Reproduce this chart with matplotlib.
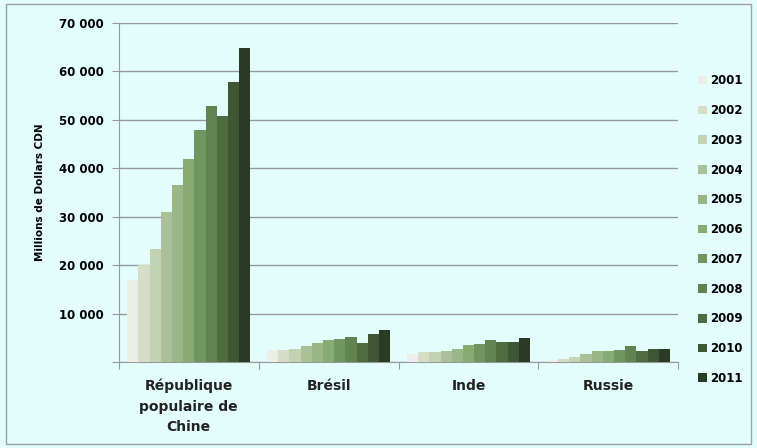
import numpy as np
import matplotlib.pyplot as plt
from matplotlib.patches import Rectangle, Patch
from matplotlib.ticker import FuncFormatter

# valeurs (millions de dollars CDN)
years = ['2001', '2002', '2003', '2004', '2005', '2006', '2007', '2008', '2009', '2010', '2011']
countries = ['République\npopulaire de\nChine', 'Brésil', 'Inde', 'Russie']
chine = [16900, 20000, 23300, 31000, 36500, 41800, 47900, 52900, 50700, 57800, 64800]
bresil = [2500, 2500, 2750, 3250, 4000, 4500, 4800, 5100, 4000, 5850, 6500]
inde = [1700, 2000, 2000, 2250, 2750, 3500, 3750, 4500, 4050, 4050, 5000]
russie = [450, 700, 1050, 1700, 2250, 2250, 2550, 3250, 2250, 2750, 2750]
colors = ['#EEEEE8', '#D6DDC6', '#C4D2B4', '#AAC099', '#98B686', '#86AB73',
          '#6F9561', '#5F8351', '#4E6C41', '#3D5634', '#2B3A24']

bg = '#E3FDFD'
values = np.array([chine, bresil, inde, russie])

fig = plt.figure(figsize=(7.57, 4.48), dpi=100, facecolor=bg)
ax = fig.add_axes([0.157, 0.192, 0.739, 0.757])
ax.set_facecolor(bg)

n = len(years)
group_w = 0.88
w = group_w / n
x = np.arange(len(countries))
for i in range(n):
    ax.bar(x - group_w / 2 + w * (i + 0.5), values[:, i], width=w, color=colors[i],
           label=years[i], zorder=3)

ax.set_xlim(-0.5, len(countries) - 0.5)
ax.set_ylim(0, 70000)
ax.set_yticks(np.arange(0, 70001, 10000))
ax.yaxis.set_major_formatter(FuncFormatter(lambda v, p: '' if v == 0 else f'{int(v):,}'.replace(',', ' ')))
ax.grid(axis='y', color='#999999', linewidth=1, zorder=0)

ax.set_xticks(np.arange(-0.5, len(countries)), minor=False)
ax.set_xticklabels([])
ax.set_xticks(x, minor=True)
ax.set_xticklabels(countries, minor=True, fontweight='bold', fontsize=10, color='#222222',
                   linespacing=1.6)
ax.tick_params(axis='x', which='minor', length=0, pad=12)
ax.tick_params(axis='x', which='major', length=5, color='#999999', direction='out')
ax.tick_params(axis='y', length=5, color='#999999', direction='out', labelsize=8.5, pad=6)
for lbl in ax.get_yticklabels():
    lbl.set_fontweight('bold')

for s in ['top', 'right']:
    ax.spines[s].set_visible(False)
for s in ['left', 'bottom']:
    ax.spines[s].set_color('#999999')

ax.set_ylabel('Millions de Dollars CDN', fontweight='bold', fontsize=7.5, labelpad=10)

handles = [Patch(facecolor=c, edgecolor='none') for c in colors]
leg = fig.legend(handles, years, loc='upper left', bbox_to_anchor=(0.908, 0.858),
                 frameon=False, handlelength=0.75, handleheight=0.75,
                 handletextpad=0.3, labelspacing=1.42,
                 prop={'weight': 'bold', 'size': 8.5})

fig.patches.append(Rectangle((0.008, 0.008), 0.984, 0.982, transform=fig.transFigure,
                             fill=False, edgecolor='#A0A0A0', linewidth=1))

fig.savefig('out.png', dpi=100, facecolor=bg)
